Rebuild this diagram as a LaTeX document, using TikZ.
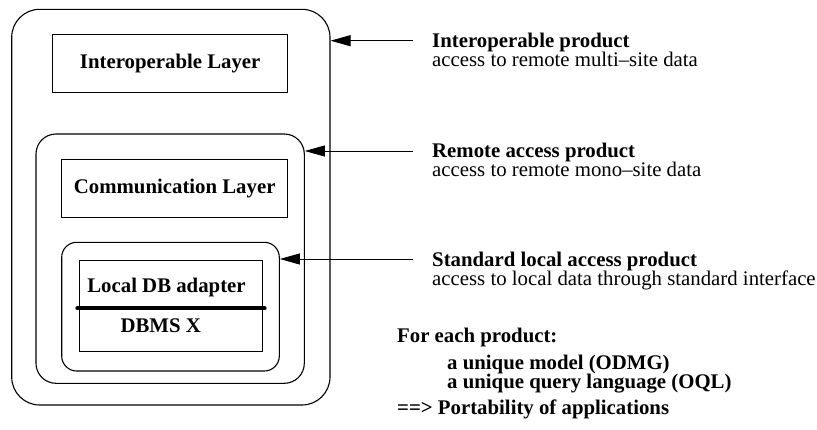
\documentclass[tikz,border=0pt]{standalone}
\usepackage{fontspec}
\setmainfont{Liberation Serif}
\usepackage{tikz}
\usetikzlibrary{arrows.meta}

\begin{document}
\begin{tikzpicture}[x=1pt, y=-1pt,
  every node/.style={font=\fontsize{20.8}{22}\selectfont, inner sep=0pt},
  container/.style={draw, line width=1.1pt, rounded corners=#1},
  layer/.style={draw, line width=0.9pt},
  head/.style={anchor=base west, font=\fontsize{20.8}{22}\selectfont\bfseries},
  note/.style={anchor=base west},
  arrow/.style={-{Triangle[length=20pt,width=11pt]}, line width=0.9pt}
]
  \useasboundingbox (0,0) rectangle (817,429);

  % Nested products
  \node[container=28pt, minimum width=318.3pt, minimum height=395.7pt] (interprod) at (170.85,207.15) {};
  \node[container=20pt, minimum width=268.3pt, minimum height=249.3pt] (remoteprod) at (170.15,258.65) {};
  \node[container=15pt, minimum width=217.6pt, minimum height=128.7pt] (localprod) at (170.5,306.65) {};

  % Layers
  \node[layer, minimum width=235pt, minimum height=58.3pt, font=\fontsize{20.8}{22}\selectfont\bfseries] (interlayer) at (170.2,63.15) {Interoperable Layer};
  \node[layer, minimum width=226pt, minimum height=58.3pt, font=\fontsize{20.8}{22}\selectfont\bfseries] (commlayer) at (174.7,188.15) {Communication Layer};
  \node[layer, minimum width=183.4pt, minimum height=91pt] (dbframe) at (171,306.2) {};
  \node[anchor=base, font=\fontsize{20.8}{22}\selectfont\bfseries] (adapter) at (166.5,292.3) {Local DB adapter};
  \node[anchor=base, font=\fontsize{20.8}{22}\selectfont\bfseries] (dbms) at (160.7,332.7) {DBMS X};
  \coordinate (split) at (0,308.3);
  \draw[line width=4pt, line cap=round] ([xshift=-1.5pt]dbframe.west |- split) -- ([xshift=1.5pt]dbframe.east |- split);

  % Arrows
  \coordinate (src1) at (413,40.7);
  \coordinate (src2) at (413,151);
  \coordinate (src3) at (413,259);
  \draw[arrow] (src1) -- (src1 -| interprod.east);
  \draw[arrow] (src2) -- (src2 -| remoteprod.east);
  \draw[arrow] (src3) -- (src3 -| localprod.east);

  % Labels
  \node[head] (t1) at (432,47) {Interoperable product};
  \node[note] (d1) at (432,66.5) {access to remote multi--site data};
  \node[head] (t2) at (432,157) {Remote access product};
  \node[note] (d2) at (432,176.5) {access to remote mono--site data};
  \node[head] (t3) at (432,266.7) {Standard local access product};
  \node[note] (d3) at (432,285.5) {access to local data through standard interface};

  % Summary
  \node[head] (each) at (397,342) {For each product:};
  \node[head] (model) at (447,369) {a unique model (ODMG)};
  \node[head] (query) at (447,388.2) {a unique query language (OQL)};
  \node[head] (port) at (397,414) {==> Portability of applications};
\end{tikzpicture}
\end{document}
